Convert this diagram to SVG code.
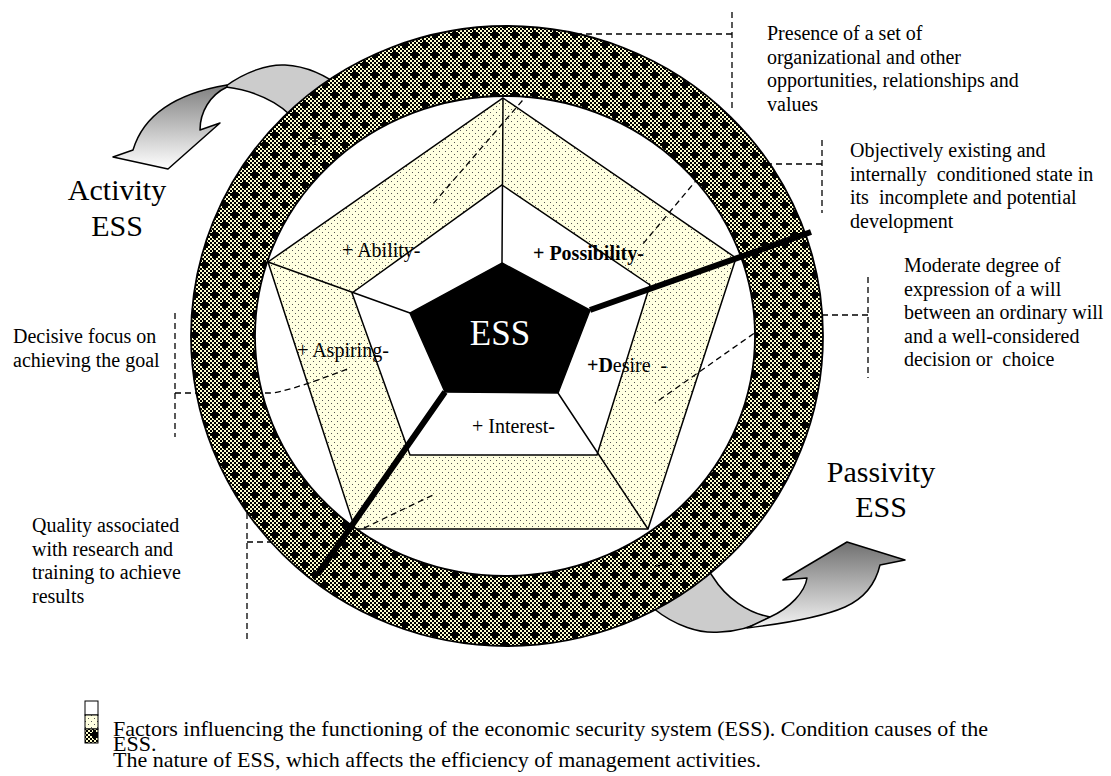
<svg xmlns="http://www.w3.org/2000/svg" width="1111" height="776" viewBox="0 0 1111 776">
<defs>
<style>
.t{font-family:"Liberation Serif","Times New Roman",serif;fill:#000}
.c{font-size:20px}
.big{font-size:30px}
.leg{font-size:22px}
.dash{fill:none;stroke:#000;stroke-width:1.3;stroke-dasharray:6 4}
.edge{stroke:#000;stroke-width:1.5;stroke-linejoin:miter}
.thin{fill:none;stroke:#000;stroke-width:1.5}
.thick{fill:none;stroke:#000;stroke-width:6}
.arr{stroke:#000;stroke-width:1.5;stroke-linejoin:round}
</style>
<pattern id="chk" width="4" height="4" patternUnits="userSpaceOnUse">
<rect width="4" height="4" fill="#FFFFCC"/>
<rect width="2" height="2" fill="#000"/>
<rect x="2" y="2" width="2" height="2" fill="#000"/>
</pattern>
<pattern id="ringPat" width="20" height="20" patternUnits="userSpaceOnUse">
<rect width="20" height="20" fill="url(#chk)"/>
<path d="M0 3h9v3H0zM3 0h3v9H3zM10 13h9v3h-9zM13 10h3v9h-3z" fill="#000"/>
</pattern>
<pattern id="dots" width="6" height="6" patternUnits="userSpaceOnUse">
<rect width="6" height="6" fill="#FFFFE0"/>
<rect x="1" y="1" width="1" height="1" fill="#555"/>
<rect x="4" y="4" width="1" height="1" fill="#555"/>
</pattern>
<linearGradient id="gTL" x1="0" y1="0" x2="0" y2="1">
<stop offset="0" stop-color="#808080"/>
<stop offset="1" stop-color="#ffffff"/>
</linearGradient>
<linearGradient id="gBR" x1="0" y1="0" x2="0" y2="1">
<stop offset="0" stop-color="#707070"/>
<stop offset="1" stop-color="#f4f4f4"/>
</linearGradient>
</defs>
<rect width="1111" height="776" fill="#fff"/>

<g id="arrow-activity">
<path class="arr" fill="#CCCCCC" d="M226,86 C245,72 268,64 285,65 C305,66 325,74 345,90 L300,128 C290,110 265,92 226,87 Z"/>
<path class="arr" fill="url(#gTL)" d="M227,85 C185,92 145,110 133,150 L113,157 L168,169 L220,123 L200,130 C200,112 210,95 227,87 Z"/>
</g>
<g id="arrow-passivity">
<path class="arr" fill="#CCCCCC" d="M640,596 L653,608 C675,626 700,634 720,632 C740,631 756,626 770,617 C748,613 726,598 713,577 L700,558 Z"/>
<path class="arr" fill="url(#gBR)" d="M747,628 C780,624 820,618 845,607 C865,598 876,582 880,565 L905,560 L847,542 L783,580 L807,578 C805,592 790,608 770,617 Z"/>
</g>

<g id="outer-pentagon">
<polygon class="edge" fill="url(#dots)" points="503,98 736,258 648,529 355,529 268,262"/>
</g>
<g id="inner-pentagon">
<polygon class="edge" fill="#fff" points="502,185 650,285 597,455 410,455 352,293"/>
</g>
<g id="spokes">
<path class="thin" d="M503,98 L502,263 M268,262 L410,313 M558,393 L648,529"/>
</g>
<g id="ess-core">
<polygon class="edge" fill="#000" points="502,263 590,310 558,393 445,392 410,313"/>
<text class="t" x="500" y="345" font-size="35" text-anchor="middle" style="fill:#fff">ESS</text>
</g>

<g id="connectors">
<path class="dash" d="M732,12 V112 M732,34 H580 L432,205"/>
<path class="dash" d="M822,140 V213 M822,164 H710 L642,245"/>
<path class="dash" d="M868,277 V378 M868,315 H780 L655,403"/>
<path class="dash" d="M175,313 V437 M175,393 H270 Q285,393 350,368"/>
<path class="dash" d="M247,513 V643 M247,542 H335 L433,495"/>
</g>

<g id="ring">
<path fill="url(#ringPat)" fill-rule="evenodd" stroke="#000" stroke-width="1.8" d="M191,336 a316,310 0 1,0 632,0 a316,310 0 1,0 -632,0 Z M255,336 a250,240 0 1,0 500,0 a250,240 0 1,0 -500,0 Z"/>
<path fill="none" stroke="#000" stroke-width="1.5" d="M308,138 H322 M315,131 V145 M655,566 L672,564"/>
</g>

<g id="thick-spokes">
<path class="thick" d="M590,310 L811,232 M445,392 L318,574"/>
</g>

<g id="factor-labels">
<text class="t c" x="342" y="257">+ Ability-</text>
<text class="t c" x="533" y="260" font-weight="bold">+ Possibility-</text>
<text class="t c" x="297" y="357">+ Aspiring-</text>
<text class="t c" x="587" y="372"><tspan font-weight="bold">+D</tspan>esire<tspan dx="10">-</tspan></text>
<text class="t c" x="472" y="433">+ Interest-</text>
</g>

<g id="callout-presence">
<text class="t c" x="767" y="40">Presence of a set of</text>
<text class="t c" x="767" y="63.5">organizational and other</text>
<text class="t c" x="767" y="87">opportunities, relationships and</text>
<text class="t c" x="767" y="110.5">values</text>
</g>
<g id="callout-objectively">
<text class="t c" x="850" y="157">Objectively existing and</text>
<text class="t c" x="850" y="180.5" xml:space="preserve">internally  conditioned state in</text>
<text class="t c" x="850" y="204" xml:space="preserve">its  incomplete and potential</text>
<text class="t c" x="850" y="227.5">development</text>
</g>
<g id="callout-moderate">
<text class="t c" x="904" y="272">Moderate degree of</text>
<text class="t c" x="904" y="295.5">expression of a will</text>
<text class="t c" x="904" y="319">between an ordinary will</text>
<text class="t c" x="904" y="342.5">and a well-considered</text>
<text class="t c" x="904" y="366" xml:space="preserve">decision or  choice</text>
</g>
<g id="callout-decisive">
<text class="t c" x="13" y="343">Decisive focus on</text>
<text class="t c" x="13" y="367">achieving the goal</text>
</g>
<g id="callout-quality">
<text class="t c" x="32" y="532">Quality associated</text>
<text class="t c" x="32" y="555.5">with research and</text>
<text class="t c" x="32" y="579">training to achieve</text>
<text class="t c" x="32" y="602.5">results</text>
</g>
<g id="label-activity">
<text class="t big" x="117" y="200" text-anchor="middle">Activity</text>
<text class="t big" x="117" y="236" text-anchor="middle">ESS</text>
</g>
<g id="label-passivity">
<text class="t big" x="881" y="482" text-anchor="middle">Passivity</text>
<text class="t big" x="881" y="517" text-anchor="middle">ESS</text>
</g>

<g id="legend">
<rect x="85" y="701" width="13" height="14" fill="#fff" stroke="#000" stroke-width="1"/>
<rect x="85" y="715" width="13" height="14" fill="url(#dots)" stroke="#000" stroke-width="1"/>
<rect x="85" y="729" width="13" height="14" fill="url(#ringPat)" stroke="#000" stroke-width="1"/>
<text class="t leg" x="113" y="736">Factors influencing the functioning of the economic security system (ESS). Condition causes of the</text>
<text class="t leg" x="113" y="751">ESS.</text>
<text class="t leg" x="113" y="767">The nature of ESS, which affects the efficiency of management activities.</text>
</g>
</svg>
